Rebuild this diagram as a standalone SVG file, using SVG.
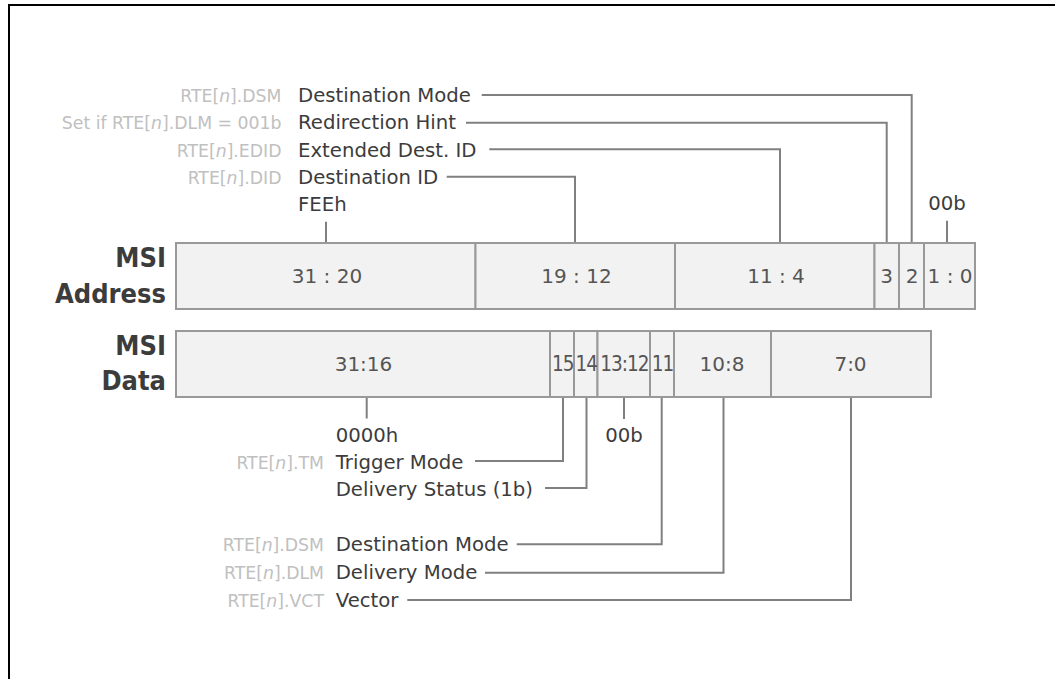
<svg xmlns="http://www.w3.org/2000/svg" width="1055" height="679" viewBox="0 0 1055 679">
<style>
.t{font-family:"DejaVu Sans","Liberation Sans",sans-serif;font-size:19.7px;fill:#3c3c3c}
.tm{font-family:"DejaVu Sans","Liberation Sans",sans-serif;font-size:19.7px;fill:#3c3c3c;text-anchor:middle}
.g{font-family:"DejaVu Sans","Liberation Sans",sans-serif;font-size:17.3px;fill:#c0c0c0;text-anchor:end}
.c{font-family:"DejaVu Sans","Liberation Sans",sans-serif;font-size:20px;fill:#555;text-anchor:middle}
.cn{font-family:"DejaVu Sans Condensed","DejaVu Sans",sans-serif;font-stretch:condensed;font-size:20.5px;fill:#555;text-anchor:middle;letter-spacing:-1px}
.b{font-family:"DejaVu Sans Condensed","DejaVu Sans",sans-serif;font-stretch:condensed;font-weight:bold;font-size:27px;fill:#3c3c3c;text-anchor:end}
.cell{fill:#f2f2f2;stroke:#999;stroke-width:2}
.ln{fill:none;stroke:#808080;stroke-width:2}
.i{font-style:italic}
</style>
<rect x="0" y="0" width="1055" height="679" fill="#fff"/>
<rect x="9" y="5" width="1100" height="720" fill="none" stroke="#000" stroke-width="2"/>

<g id="connectors">
<path class="ln" d="M481.7,95 H911.7 V243"/>
<path class="ln" d="M466,122.7 H886.7 V243"/>
<path class="ln" d="M489.3,149.3 H780 V243"/>
<path class="ln" d="M446.7,176.7 H575 V243"/>
<path class="ln" d="M326,221.7 V243"/>
<path class="ln" d="M947,220.7 V243"/>
<path class="ln" d="M366.7,397 V418.5"/>
<path class="ln" d="M475,461 H563 V397"/>
<path class="ln" d="M545,488 H586.5 V397"/>
<path class="ln" d="M624,397 V419"/>
<path class="ln" d="M516.7,544.3 H661.7 V397"/>
<path class="ln" d="M485,572.7 H723.5 V397"/>
<path class="ln" d="M407.3,600 H851 V397"/>
</g>

<g id="msi-address">
<text class="b" x="166" y="267">MSI</text>
<text class="b" x="166" y="303">Address</text>
<rect class="cell" x="176" y="243" width="299.5" height="66"/>
<rect class="cell" x="475.5" y="243" width="199.5" height="66"/>
<rect class="cell" x="675" y="243" width="199.5" height="66"/>
<rect class="cell" x="874.5" y="243" width="24.5" height="66"/>
<rect class="cell" x="899" y="243" width="25" height="66"/>
<rect class="cell" x="924" y="243" width="51" height="66"/>
<text class="c" x="327" y="283">31 : 20</text>
<text class="c" x="576.5" y="283">19 : 12</text>
<text class="c" x="776" y="283">11 : 4</text>
<text class="c" x="886.7" y="283">3</text>
<text class="c" x="912" y="283">2</text>
<text class="c" x="950" y="283">1 : 0</text>
</g>

<g id="msi-data">
<text class="b" x="166" y="355">MSI</text>
<text class="b" x="166" y="390">Data</text>
<rect class="cell" x="176" y="331" width="374" height="66"/>
<rect class="cell" x="550" y="331" width="24" height="66"/>
<rect class="cell" x="574" y="331" width="23.5" height="66"/>
<rect class="cell" x="597.5" y="331" width="52.5" height="66"/>
<rect class="cell" x="650" y="331" width="24" height="66"/>
<rect class="cell" x="674" y="331" width="97" height="66"/>
<rect class="cell" x="771" y="331" width="160" height="66"/>
<text class="c" x="363.5" y="371">31:16</text>
<text class="cn" x="562.8" y="371">15</text>
<text class="cn" x="586.3" y="371">14</text>
<text class="cn" x="624.3" y="371">13:12</text>
<text class="cn" x="662.5" y="371">11</text>
<text class="c" x="722" y="371">10:8</text>
<text class="c" x="850.5" y="371">7:0</text>
</g>

<g id="addr-dsm">
<text class="g" x="281.5" y="102">RTE[<tspan class="i">n</tspan>].DSM</text>
<text class="t" x="298" y="102">Destination Mode</text>
</g>
<g id="addr-rh">
<text class="g" x="281.5" y="129.3">Set if RTE[<tspan class="i">n</tspan>].DLM = 001b</text>
<text class="t" x="298" y="129.3">Redirection Hint</text>
</g>
<g id="addr-edid">
<text class="g" x="281.5" y="156.7">RTE[<tspan class="i">n</tspan>].EDID</text>
<text class="t" x="298" y="156.7">Extended Dest. ID</text>
</g>
<g id="addr-did">
<text class="g" x="281.5" y="184">RTE[<tspan class="i">n</tspan>].DID</text>
<text class="t" x="298" y="184">Destination ID</text>
</g>
<g id="addr-fee">
<text class="t" x="298" y="211">FEEh</text>
</g>
<g id="addr-00b">
<text class="tm" x="947" y="210">00b</text>
</g>

<g id="data-0000h">
<text class="t" x="335.7" y="441.5">0000h</text>
</g>
<g id="data-tm">
<text class="g" x="324" y="468.7">RTE[<tspan class="i">n</tspan>].TM</text>
<text class="t" x="335.7" y="468.7">Trigger Mode</text>
</g>
<g id="data-ds">
<text class="t" x="335.7" y="495.6">Delivery Status (1b)</text>
</g>
<g id="data-00b">
<text class="tm" x="624" y="441.5">00b</text>
</g>
<g id="data-dsm">
<text class="g" x="324" y="551.3">RTE[<tspan class="i">n</tspan>].DSM</text>
<text class="t" x="335.7" y="551.3">Destination Mode</text>
</g>
<g id="data-dlm">
<text class="g" x="324" y="579">RTE[<tspan class="i">n</tspan>].DLM</text>
<text class="t" x="335.7" y="579">Delivery Mode</text>
</g>
<g id="data-vct">
<text class="g" x="324" y="606.5">RTE[<tspan class="i">n</tspan>].VCT</text>
<text class="t" x="335.7" y="606.5">Vector</text>
</g>
</svg>
